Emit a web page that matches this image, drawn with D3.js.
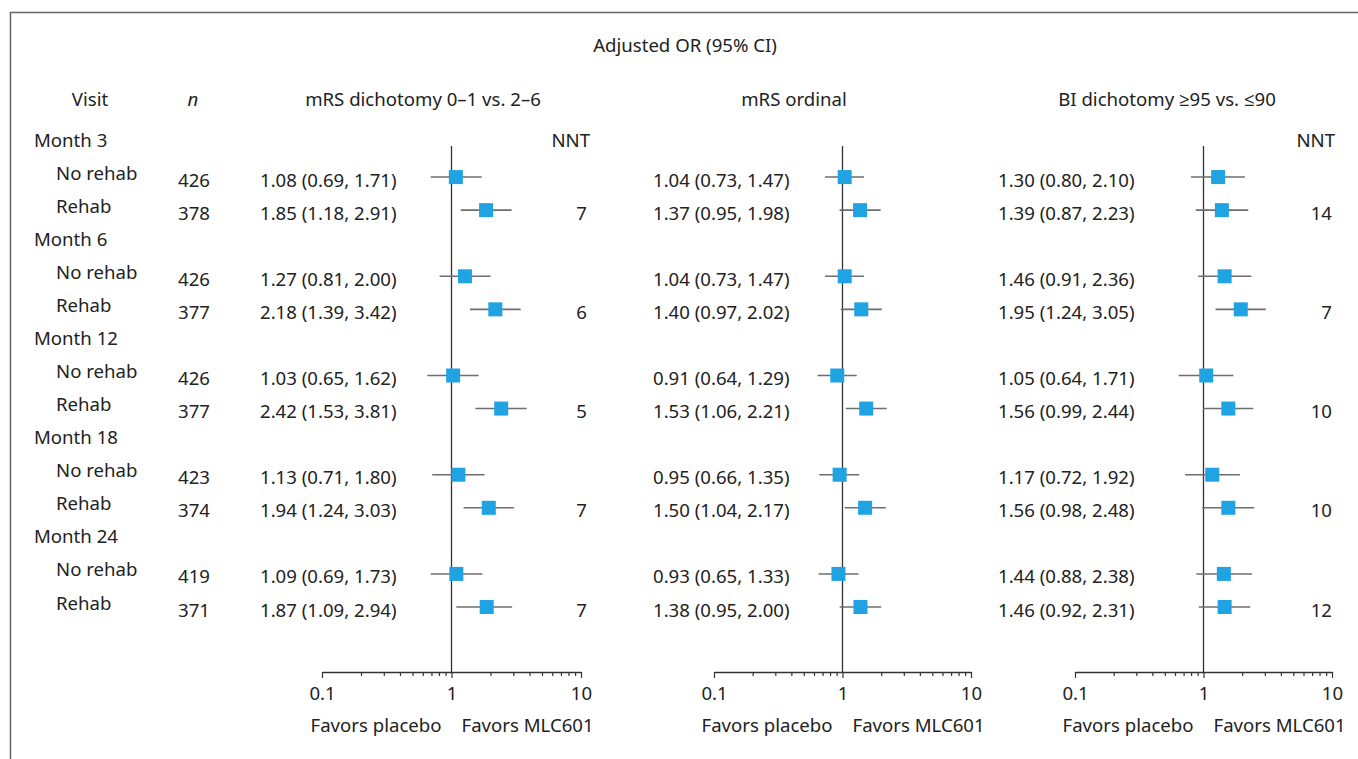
<!DOCTYPE html>
<head><style>
body { margin: 0; background: #fff; }
svg { display: block; }
text { font-family: "Noto Sans", "Open Sans", sans-serif; font-size: 18.6px; fill: #222; }
</style></head>
<body>
    <div class="container"></div>
    <script src="https://d3js.org/d3.v7.min.js"></script>
    <script>
        // data
        var visits = ['Month 3', 'Month 6', 'Month 12', 'Month 18', 'Month 24'];
        var groups = ['No rehab', 'Rehab'];
        var nValues = [426, 378, 426, 377, 426, 377, 423, 374, 419, 371];

        var mrsDichOR = [1.08, 1.85, 1.27, 2.18, 1.03, 2.42, 1.13, 1.94, 1.09, 1.87];
        var mrsDichLo = [0.69, 1.18, 0.81, 1.39, 0.65, 1.53, 0.71, 1.24, 0.69, 1.09];
        var mrsDichHi = [1.71, 2.91, 2.00, 3.42, 1.62, 3.81, 1.80, 3.03, 1.73, 2.94];
        var mrsDichNNT = ['', '7', '', '6', '', '5', '', '7', '', '7'];

        var mrsOrdOR = [1.04, 1.37, 1.04, 1.40, 0.91, 1.53, 0.95, 1.50, 0.93, 1.38];
        var mrsOrdLo = [0.73, 0.95, 0.73, 0.97, 0.64, 1.06, 0.66, 1.04, 0.65, 0.95];
        var mrsOrdHi = [1.47, 1.98, 1.47, 2.02, 1.29, 2.21, 1.35, 2.17, 1.33, 2.00];

        var biOR = [1.30, 1.39, 1.46, 1.95, 1.05, 1.56, 1.17, 1.56, 1.44, 1.46];
        var biLo = [0.80, 0.87, 0.91, 1.24, 0.64, 0.99, 0.72, 0.98, 0.88, 0.92];
        var biHi = [2.10, 2.23, 2.36, 3.05, 1.71, 2.44, 1.92, 2.48, 2.38, 2.31];
        var biNNT = ['', '14', '', '7', '', '10', '', '10', '', '12'];

        var axisTicks = [0.1, 0.2, 0.3, 0.4, 0.5, 0.6, 0.7, 0.8, 0.9, 1, 2, 3, 4, 5, 6, 7, 8, 9, 10];
        var axisLabels = [0.1, 1, 10];

        var panels = [
            { title: 'mRS dichotomy 0\u20131 vs. 2\u20136', or: mrsDichOR, lo: mrsDichLo, hi: mrsDichHi, nnt: mrsDichNNT,
              range: [322, 581], textX: 260, titleX: 423, nntX: 590 },
            { title: 'mRS ordinal', or: mrsOrdOR, lo: mrsOrdLo, hi: mrsOrdHi, nnt: null,
              range: [714, 971], textX: 653, titleX: 794 },
            { title: 'BI dichotomy \u226595 vs. \u226490', or: biOR, lo: biLo, hi: biHi, nnt: biNNT,
              range: [1075, 1332], textX: 998, titleX: 1167, nntX: 1335 }
        ];

        var svg = d3.select('.container')
                    .append('svg')
                    .attr('width', 1358)
                    .attr('height', 759);

        // frame
        svg.append('path')
           .attr('d', 'M10.5,759 L10.5,12.5 L1358,12.5')
           .attr('fill', 'none')
           .attr('stroke', '#666')
           .attr('stroke-width', 1.5);

        // row index -> y
        var yRow = d3.scaleLinear().domain([0, 14]).range([139, 602]);
        var axisY = 672;
        var fmt = d3.format('.2f');

        var rows = [];
        visits.forEach(function(v, i) {
            groups.forEach(function(g, j) {
                rows.push({ visit: i, group: j, idx: i * 3 + 1 + j, k: i * 2 + j });
            });
        });

        svg.append('text').attr('x', 685).attr('y', 44)
           .attr('text-anchor', 'middle').attr('dominant-baseline', 'central')
           .text('Adjusted OR (95% CI)');
        svg.append('text').attr('x', 90).attr('y', 98)
           .attr('text-anchor', 'middle').attr('dominant-baseline', 'central')
           .text('Visit');
        svg.append('text').attr('x', 193).attr('y', 98)
           .attr('text-anchor', 'middle').attr('dominant-baseline', 'central')
           .style('font-style', 'italic')
           .text('n');

        svg.selectAll('.visit')
           .data(visits)
           .enter().append('text')
           .attr('x', 34)
           .attr('y', function(d, i) { return yRow(i * 3); })
           .attr('dominant-baseline', 'central')
           .text(function(d) { return d; });

        svg.selectAll('.grp')
           .data(rows)
           .enter().append('text')
           .attr('x', 56)
           .attr('y', function(d) { return yRow(d.idx); })
           .attr('dominant-baseline', 'central')
           .text(function(d) { return groups[d.group]; });

        svg.selectAll('.nval')
           .data(rows)
           .enter().append('text')
           .attr('x', 194)
           .attr('y', function(d) { return yRow(d.idx) + 7; })
           .attr('text-anchor', 'middle')
           .attr('dominant-baseline', 'central')
           .text(function(d) { return nValues[d.k]; });

        panels.forEach(function(p) {
            var x = d3.scaleLog().domain([0.1, 10]).range(p.range);
            var g = svg.append('g');

            g.append('text').attr('x', p.titleX).attr('y', 98)
             .attr('text-anchor', 'middle').attr('dominant-baseline', 'central')
             .text(p.title);

            if (p.nnt) {
                g.append('text').attr('x', p.nntX).attr('y', 139)
                 .attr('text-anchor', 'end').attr('dominant-baseline', 'central')
                 .text('NNT');
                g.selectAll('.nnt')
                 .data(rows)
                 .enter().append('text')
                 .attr('x', p.nntX - 3)
                 .attr('y', function(d) { return yRow(d.idx) + 7; })
                 .attr('text-anchor', 'end')
                 .attr('dominant-baseline', 'central')
                 .text(function(d) { return p.nnt[d.k]; });
            }

            g.selectAll('.est')
             .data(rows)
             .enter().append('text')
             .attr('x', p.textX)
             .attr('y', function(d) { return yRow(d.idx) + 7; })
             .attr('dominant-baseline', 'central')
             .text(function(d) {
                 return fmt(p.or[d.k]) + ' (' + fmt(p.lo[d.k]) + ', ' + fmt(p.hi[d.k]) + ')';
             });

            // axis
            var axis = d3.axisBottom(x)
                         .tickValues(axisTicks)
                         .tickSizeInner(4)
                         .tickSizeOuter(0)
                         .tickPadding(11)
                         .tickFormat(function(d) { return axisLabels.indexOf(d) >= 0 ? d3.format('~g')(d) : ''; });
            var ax = g.append('g')
                      .attr('transform', 'translate(0,' + axisY + ')')
                      .call(axis);
            ax.select('.domain').attr('stroke', '#333').attr('stroke-width', 1.3);
            ax.selectAll('.tick line')
              .attr('stroke', '#333')
              .attr('stroke-width', 1.2)
              .attr('y2', function(d) { return axisLabels.indexOf(d) >= 0 ? 6 : 4; });
            ax.selectAll('.tick text')
              .attr('fill', '#222')
              .style('font-size', '18.6px')
              .style('font-family', '"Noto Sans", "Open Sans", sans-serif');

            // reference line at OR = 1
            g.append('line')
             .attr('x1', x(1)).attr('x2', x(1))
             .attr('y1', 146).attr('y2', axisY)
             .attr('stroke', '#333')
             .attr('stroke-width', 1.3);

            // CIs
            g.selectAll('.ci')
             .data(rows)
             .enter().append('line')
             .attr('x1', function(d) { return x(p.lo[d.k]); })
             .attr('x2', function(d) { return x(p.hi[d.k]); })
             .attr('y1', function(d) { return yRow(d.idx) + 5; })
             .attr('y2', function(d) { return yRow(d.idx) + 5; })
             .attr('stroke', '#6e6e6e')
             .attr('stroke-width', 1.6);

            // estimates
            g.selectAll('.pt')
             .data(rows)
             .enter().append('rect')
             .attr('x', function(d) { return x(p.or[d.k]) - 7; })
             .attr('y', function(d) { return yRow(d.idx) + 5 - 7; })
             .attr('width', 14)
             .attr('height', 14)
             .attr('fill', '#1fa3e3');

            g.append('text').attr('x', x(1) - 10).attr('y', 724)
             .attr('text-anchor', 'end').attr('dominant-baseline', 'central')
             .text('Favors placebo');
            g.append('text').attr('x', x(1) + 10).attr('y', 724)
             .attr('dominant-baseline', 'central')
             .text('Favors MLC601');
        });
    </script>
</body>
